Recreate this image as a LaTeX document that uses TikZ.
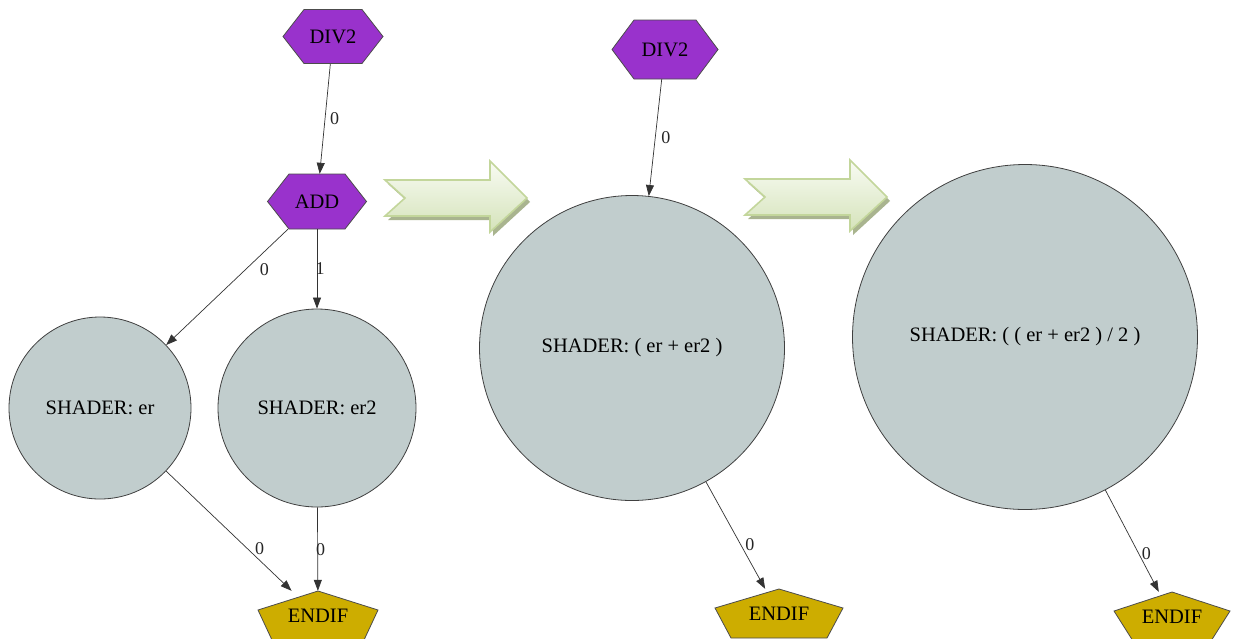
\documentclass[tikz,border=0pt]{standalone}
\usepackage{fontspec}
\setmainfont{Liberation Serif}
\usetikzlibrary{arrows.meta,calc,backgrounds}

\definecolor{orchid}{HTML}{9932CC}
\definecolor{azurethree}{HTML}{C1CDCD}
\definecolor{goldthree}{HTML}{CDAD00}
\definecolor{arrowrim}{HTML}{C3D69B}
\definecolor{arrowtop}{HTML}{F8FBF3}
\definecolor{arrowbot}{HTML}{D5E3BA}
\definecolor{arrowshade}{HTML}{A9B48F}

% hexagon outline behind a node: name, half width, corner offset, half height
\newcommand\hexbody[4]{%
  \draw[hexfill] ($(#1)+(-#2,0)$) -- ($(#1)+(-#3,-#4)$) -- ($(#1)+(#3,-#4)$)
    -- ($(#1)+(#2,0)$) -- ($(#1)+(#3,#4)$) -- ($(#1)+(-#3,#4)$) -- cycle;}
% pentagon outline behind a node: name, half width, bottom half width
\newcommand\pentbody[3]{%
  \draw[pentfill] ($(#1)+(0,-25)$) -- ($(#1)+(#2,-6)$) -- ($(#1)+(#3,24)$)
    -- ($(#1)+(-#3,24)$) -- ($(#1)+(-#2,-6)$) -- cycle;}
% block arrow with notched tail, placed by its upper-left tail corner
\newcommand\blockarrow[1]{%
  \begin{scope}[shift={#1}]
    \fill[arrowshade] (3,4) -- (108,4) -- (108,-15) -- (145,22) -- (108,56)
      -- (108,40) -- (3,40) -- (23,22) -- cycle;
    \draw[arrowbody] (0,0) -- (105,0) -- (105,-19) -- (142,18) -- (105,52)
      -- (105,36) -- (0,36) -- (20,18) -- cycle;
  \end{scope}}

\begin{document}
\begin{tikzpicture}[
    x=1pt, y=-1pt,
    txt/.style={font=\fontsize{20.5}{24}\selectfont, text=black},
    hexnode/.style={txt, minimum width=100pt, minimum height=55pt, inner sep=0pt},
    hexfill/.style={fill=orchid, draw=black!70, line width=0.8pt},
    pentnode/.style={txt, minimum width=120pt, minimum height=50pt, inner sep=0pt, yshift=-2pt},
    pentfill/.style={fill=goldthree, draw=black!70, line width=0.8pt},
    shader/.style={txt, circle, fill=azurethree, draw=black!75, line width=0.8pt, inner sep=0pt},
    edge/.style={draw=black!80, line width=0.7pt, -{Triangle[length=11pt,width=8pt]}},
    lbl/.style={font=\fontsize{18}{20}\selectfont, text=black!85, inner sep=0pt},
    arrowbody/.style={top color=arrowtop, bottom color=arrowbot, draw=arrowrim,
      line width=1.6pt, line join=miter},
  ]
  \useasboundingbox (0,0) rectangle (1236,638);

  % ---- first graph ----
  \node[hexnode] (divA) at (333,36.5) {DIV2};
  \node[hexnode] (add)  at (317,201.5) {ADD};
  \node[shader, minimum size=182pt] (er)  at (100,408) {SHADER: er};
  \node[shader, minimum size=198pt] (er2) at (317,408) {SHADER: er2};
  \node[pentnode, minimum width=120pt] (endA) at (318,614) {ENDIF};

  % ---- second graph ----
  \node[hexnode, minimum width=106pt, minimum height=59pt] (divB) at (665,49.5) {DIV2};
  \node[shader, minimum size=305pt] (sum) at (632,348) {SHADER: ( er + er2 )};
  \node[pentnode, minimum width=128pt] (endB) at (779,612) {ENDIF};

  % ---- third graph ----
  \node[shader, minimum size=345pt] (avg) at (1025,337) {SHADER: ( ( er + er2 ) / 2 )};
  \node[pentnode, minimum width=116pt] (endC) at (1172,615) {ENDIF};

  \begin{scope}[on background layer]
    \fill[white] (0,0) rectangle (1236,638);
    \hexbody{divA}{50}{29}{27}
    \hexbody{add}{49.5}{28}{27.5}
    \hexbody{divB}{53}{31}{29.5}
    \pentbody{endA}{60}{46}
    \pentbody{endB}{64}{48}
    \pentbody{endC}{58}{39}
  \end{scope}

  % ---- connectors ----
  \draw[edge] (divA) -- (add) node[lbl, pos=.5, xshift=9.5pt] {0};
  \draw[edge] (add) -- (er) node[lbl, pos=.35, xshift=19pt] {0};
  \draw[edge] (add) -- (er2) node[lbl, pos=.5, xshift=3pt] {1};
  \draw[edge] (er) -- (endA) node[lbl, pos=.65, xshift=12pt] {0};
  \draw[edge] (er2) -- (endA) node[lbl, pos=.5, xshift=3pt] {0};

  \draw[edge] (divB) -- (sum) node[lbl, pos=.5, xshift=10.5pt] {0};
  \draw[edge] (sum) -- (endB) node[lbl, pos=.59, xshift=9pt] {0};

  \draw[edge] (avg) -- (endC) node[lbl, pos=.62, xshift=8pt] {0};

  % ---- transformation arrows ----
  \blockarrow{(385,180)}
  \blockarrow{(745,179)}
\end{tikzpicture}
\end{document}
